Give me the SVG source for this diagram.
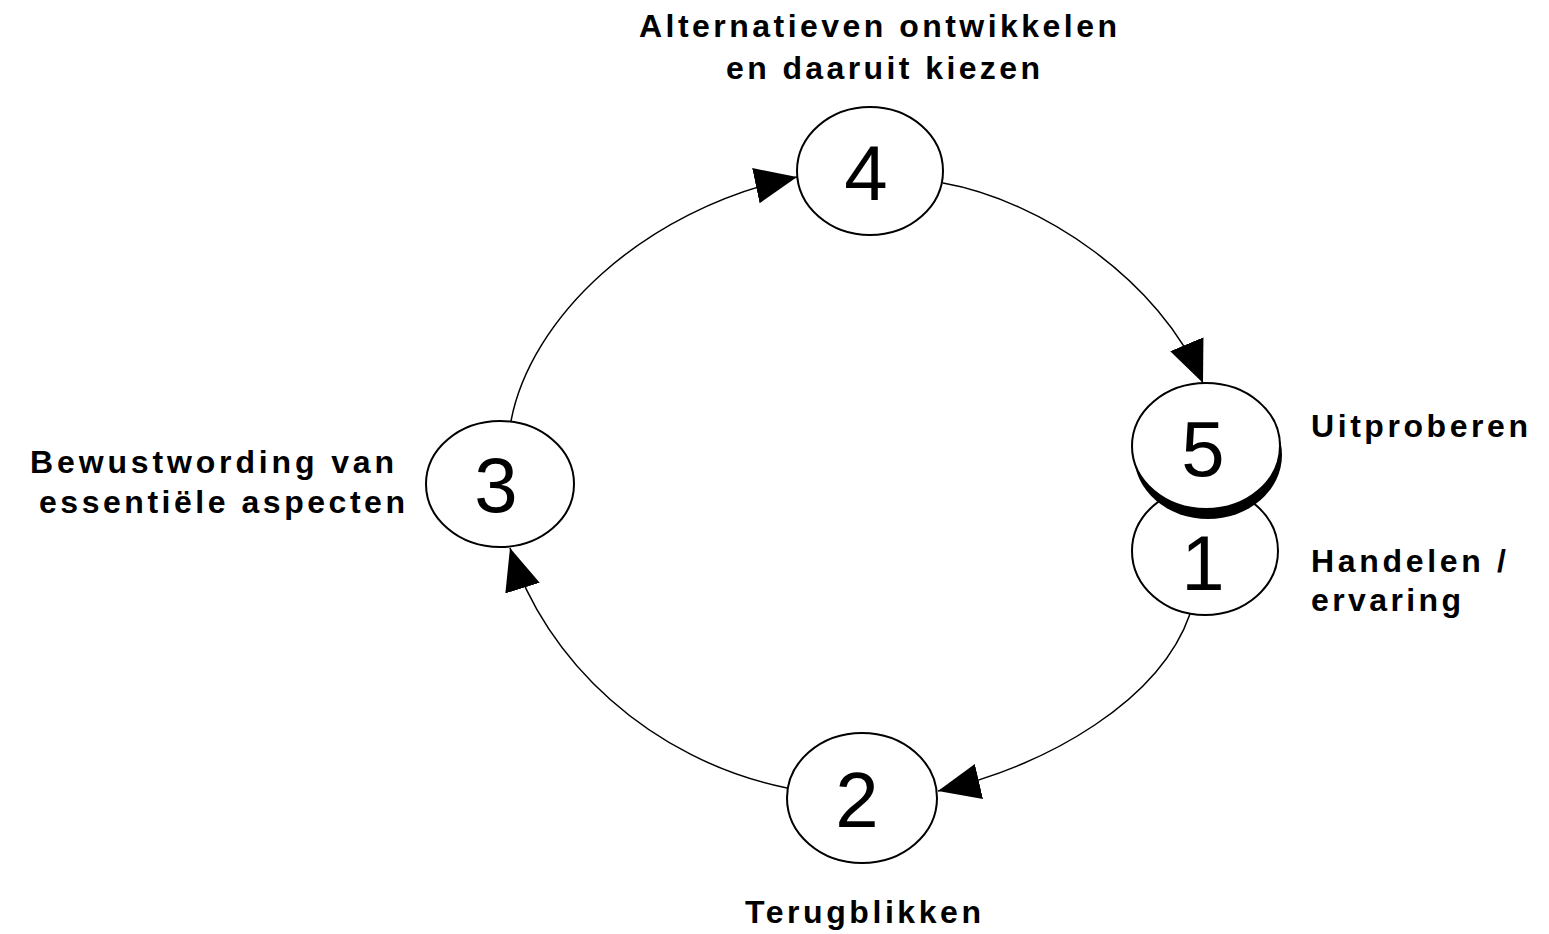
<svg xmlns="http://www.w3.org/2000/svg" width="1549" height="934" viewBox="0 0 1549 934">
<style>
.node{fill:#fff;stroke:#000;stroke-width:2}
.num{font-family:"Liberation Sans",Arial,sans-serif;font-size:78px;text-anchor:middle;fill:#000}
.lbl{font-family:"Liberation Sans",Arial,sans-serif;font-size:32px;font-weight:bold;fill:#000}
.conn{fill:none;stroke:#000;stroke-width:1.5}
</style>
<defs>
<marker id="arr" markerUnits="userSpaceOnUse" markerWidth="44" markerHeight="38" refX="42" refY="18" orient="auto">
<path d="M0,0 L42,18 L0,36 z" fill="#000"/>
</marker>
</defs>
<rect width="1549" height="934" fill="#fff"/>
<g id="connectors">
<path class="conn" d="M943,183 C1040,200 1160,280 1203,383" marker-end="url(#arr)"/>
<path class="conn" d="M1190,614 C1160,700 1050,765 938,791" marker-end="url(#arr)"/>
<path class="conn" d="M787,788 C650,760 545,660 510,548" marker-end="url(#arr)"/>
<path class="conn" d="M511,421 C530,320 640,210 797,177" marker-end="url(#arr)"/>
</g>
<g id="node4">
<ellipse class="node" cx="870" cy="171" rx="73" ry="64"/>
<text class="num" x="866" y="200">4</text>
<text class="lbl" x="639" y="37" textLength="478" lengthAdjust="spacing">Alternatieven ontwikkelen</text>
<text class="lbl" x="726" y="79" textLength="314" lengthAdjust="spacing">en daaruit kiezen</text>
</g>
<g id="node3">
<ellipse class="node" cx="500" cy="484" rx="74" ry="63"/>
<text class="num" x="496" y="512">3</text>
<text class="lbl" x="30" y="473" textLength="364" lengthAdjust="spacing">Bewustwording van</text>
<text class="lbl" x="39" y="513" textLength="366" lengthAdjust="spacing">essentiële aspecten</text>
</g>
<g id="node2">
<ellipse class="node" cx="862" cy="798" rx="75" ry="65"/>
<text class="num" x="857" y="827">2</text>
<text class="lbl" x="745" y="923" textLength="236" lengthAdjust="spacing">Terugblikken</text>
</g>
<g id="node1">
<ellipse class="node" cx="1205" cy="551" rx="73" ry="64"/>
<text class="num" x="1203" y="590">1</text>
<text class="lbl" x="1311" y="572" textLength="195" lengthAdjust="spacing">Handelen /</text>
<text class="lbl" x="1311" y="611" textLength="150" lengthAdjust="spacing">ervaring</text>
</g>
<g id="node5">
<ellipse cx="1208" cy="455" rx="74" ry="64" fill="#000"/>
<ellipse class="node" cx="1206" cy="446" rx="74" ry="63"/>
<text class="num" x="1203" y="476">5</text>
<text class="lbl" x="1311" y="437" textLength="217" lengthAdjust="spacing">Uitproberen</text>
</g>
</svg>
